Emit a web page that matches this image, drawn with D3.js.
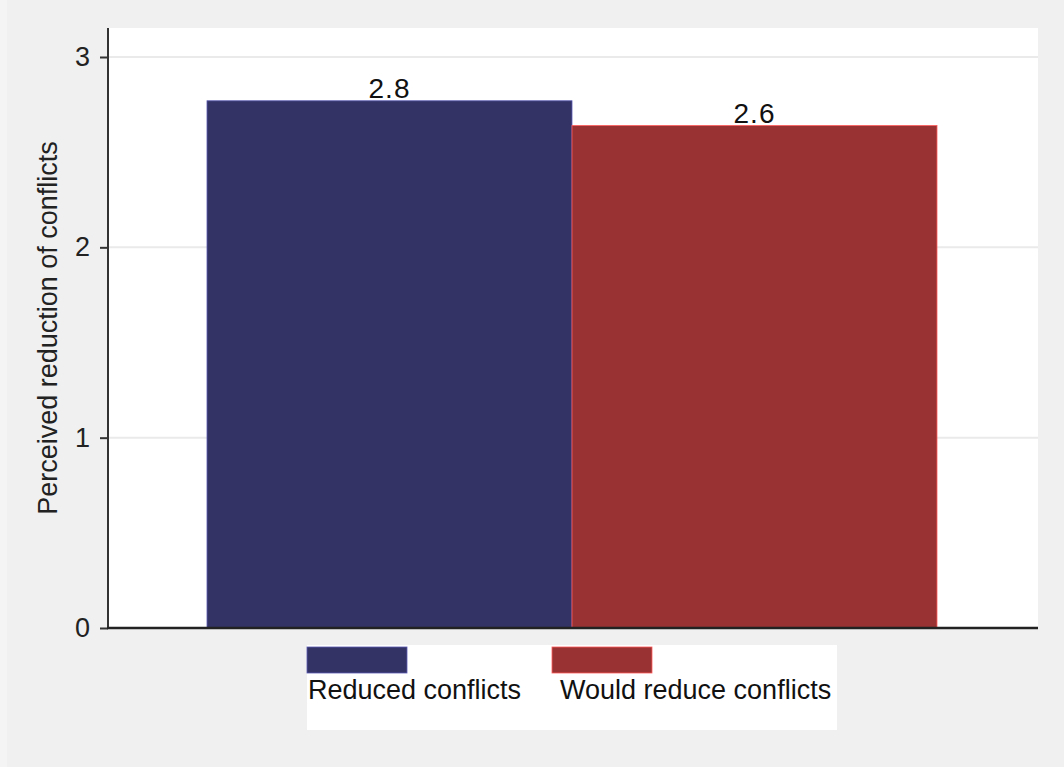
<!DOCTYPE html>
<html>
<head>
<meta charset="utf-8">
<script src="https://cdn.jsdelivr.net/npm/d3@7"></script>
<style>
  html, body { margin: 0; padding: 0; background: #f0f0f0; }
  svg { display: block; }
  text { font-family: "Liberation Sans", Arial, sans-serif; }
</style>
</head>
<body>
<svg id="chart" width="1064" height="767"></svg>
<script>
// Series shown as bars (one group, two bars side by side)
const seriesNames = ["Reduced conflicts", "Would reduce conflicts"];
const seriesValues = [2.77, 2.64];
const seriesColors = ["#333366", "#993333"];
const yTicks = [0, 1, 2, 3];
const yTitle = "Perceived reduction of conflicts";

const svg = d3.select("#chart");
const W = 1064, H = 767;

// outer background
svg.append("rect").attr("width", W).attr("height", H).attr("fill", "#f0f0f0");
svg.append("rect").attr("x", 0).attr("y", 0).attr("width", 7).attr("height", H).attr("fill", "#f4f4f4");

// plot region
const plot = { left: 108, right: 1038, top: 28, bottom: 628 };
svg.append("rect")
  .attr("x", plot.left).attr("y", plot.top)
  .attr("width", plot.right - plot.left).attr("height", plot.bottom - plot.top)
  .attr("fill", "#ffffff");

const y = d3.scaleLinear().domain([0, 3]).range([plot.bottom, 57]);
const x = d3.scaleBand().domain(seriesNames).range([207, 937]).padding(0);

// horizontal grid lines
svg.append("g").selectAll("line")
  .data(yTicks.filter(d => d > 0))
  .join("line")
  .attr("x1", plot.left).attr("x2", plot.right)
  .attr("y1", d => y(d)).attr("y2", d => y(d))
  .attr("stroke", "#eaeaea").attr("stroke-width", 2);

// bars
const data = seriesNames.map((name, i) => ({ name, value: seriesValues[i], color: seriesColors[i] }));
svg.append("g").selectAll("rect")
  .data(data)
  .join("rect")
  .attr("x", d => x(d.name))
  .attr("y", d => y(d.value))
  .attr("width", x.bandwidth())
  .attr("height", d => y(0) - y(d.value))
  .attr("fill", d => d.color)
  .attr("stroke", d => d3.color(d.color).brighter(1.6))
  .attr("stroke-width", 0.8);

// value labels above bars
const fmt = d3.format(".1f");
svg.append("g").selectAll("text")
  .data(data)
  .join("text")
  .attr("x", d => x(d.name) + x.bandwidth() / 2)
  .attr("y", d => y(d.value) - 3)
  .attr("text-anchor", "middle")
  .attr("font-size", 28)
  .attr("letter-spacing", 1)
  .attr("fill", "#111")
  .text(d => fmt(d.value));

// y axis
const yAxis = d3.axisLeft(y).tickValues(yTicks).tickSize(8).tickPadding(10).tickFormat(d3.format("d"));
const gy = svg.append("g").attr("transform", `translate(${plot.left},0)`).call(yAxis);
gy.select(".domain").attr("stroke", "#333").attr("stroke-width", 2)
  .attr("d", `M0,${plot.top}V${plot.bottom}`);
gy.selectAll(".tick line").attr("stroke", "#333").attr("stroke-width", 2);
gy.selectAll(".tick text").attr("font-size", 27).attr("fill", "#222")
  .attr("font-family", "Liberation Sans, Arial, sans-serif");

// x axis baseline
svg.append("line")
  .attr("x1", plot.left - 1).attr("x2", plot.right)
  .attr("y1", y(0)).attr("y2", y(0))
  .attr("stroke", "#222").attr("stroke-width", 2.5);

// y axis title
svg.append("text")
  .attr("transform", `translate(57,${(plot.top + plot.bottom) / 2}) rotate(-90)`)
  .attr("text-anchor", "middle")
  .attr("font-size", 27)
  .attr("fill", "#222")
  .text(yTitle);

// legend
const legend = svg.append("g");
legend.append("rect")
  .attr("x", 307).attr("y", 645).attr("width", 530).attr("height", 85)
  .attr("fill", "#ffffff");
const legendX = [307, 552];
const items = legend.selectAll("g.item")
  .data(data)
  .join("g").attr("class", "item")
  .attr("transform", (d, i) => `translate(${legendX[i]},647)`);
items.append("rect")
  .attr("width", 100).attr("height", 26)
  .attr("fill", d => d.color)
  .attr("stroke", d => d3.color(d.color).brighter(1.6))
  .attr("stroke-width", 0.8);
items.append("text")
  .attr("x", (d, i) => i === 0 ? 1 : 8)
  .attr("y", 52)
  .attr("font-size", 27)
  .attr("fill", "#111")
  .text(d => d.name);
</script>
</body>
</html>
